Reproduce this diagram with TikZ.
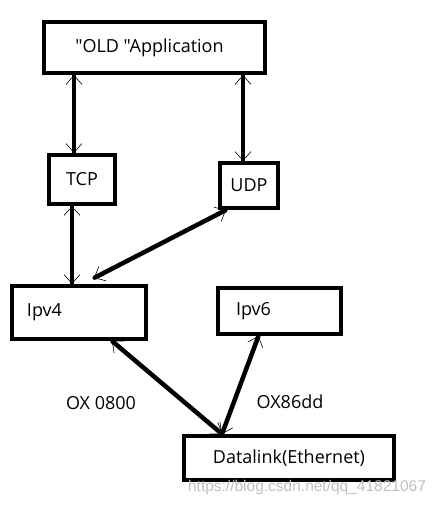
\documentclass[tikz,border=0pt]{standalone}
\usepackage{fontspec}
\setmainfont{Open Sans}
\newfontfamily\plainfont{Open Sans}
\newfontfamily\markfont{Liberation Sans}
\usetikzlibrary{arrows.meta, positioning}

\begin{document}
\begin{tikzpicture}[
    x=1pt, y=-1pt,
    every node/.style={font=\fontsize{18}{20}\selectfont},
    box/.style={draw, line width=4pt, inner sep=0pt, align=center},
    link/.style={line width=4.5pt, line cap=round,
        {Straight Barb[line width=0.6pt, length=9pt, width=16pt]}-{Straight Barb[line width=0.6pt, length=9pt, width=16pt]}}
]
    \useasboundingbox (0,0) rectangle (439,506);

    % Boxes
    \node[box, minimum width=221pt, minimum height=51pt] (app) at (154.5, 47.5) {\hspace*{-10pt}{\plainfont "OLD "Application}};
    \node[box, minimum width=66pt, minimum height=49pt] (tcp) at (82, 179.5) {TCP};
    \node[box, minimum width=58pt, minimum height=45pt] (udp) at (249, 185.5) {\raisebox{-4pt}{UDP}};
    \node[box, minimum width=134pt, minimum height=53pt, inner xsep=15pt, text width=104pt, align=left] (ipv4) at (79, 312.5) {Ipv4};
    \node[box, minimum width=123pt, minimum height=46pt, inner xsep=18pt, text width=87pt, align=left] (ipv6) at (279.5, 311) {Ipv6};
    \node[box, minimum width=210pt, minimum height=44pt] (dl) at (289, 458) {Datalink(Ethernet)};

    % Connectors
    \coordinate (tcptop) at ([xshift=-8pt]tcp.north);
    \coordinate (udptop) at ([xshift=-6pt]udp.north);
    \coordinate (tcpbot) at ([xshift=-10pt]tcp.south);
    \coordinate (dltop) at ([xshift=40pt]dl.north west);
    \draw[link] (tcptop |- app.south) -- (tcptop);
    \draw[link] (udptop |- app.south) -- (udptop);
    \draw[link] (tcpbot) -- (tcpbot |- ipv4.north);
    \draw[link] ([xshift=8pt]udp.south west) -- ([xshift=15pt, yshift=6pt]ipv4.north);
    \draw[link] ([xshift=33pt]ipv4.south) -- (dltop);
    \draw[link] ([xshift=-21pt]ipv6.south) -- (dltop);

    % Type labels
    \node (ipv4type) at (101, 403) {OX 0800};
    \node (ipv6type) at (290, 402) {OX86dd};

    % Watermark
    \node[font=\markfont\fontsize{15.5}{17}\selectfont, color=gray!50] (mark) at (307, 487) {https://blog.csdn.net/qq\_41821067};
\end{tikzpicture}
\end{document}
